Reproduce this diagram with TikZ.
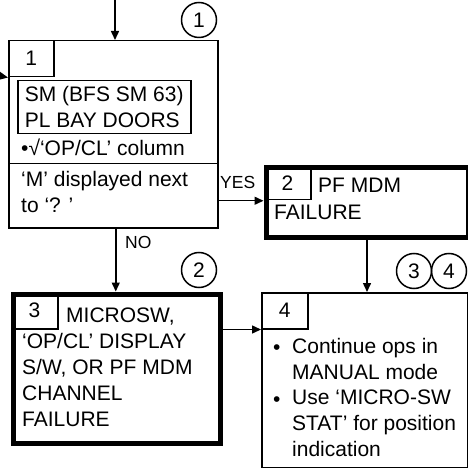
\documentclass[tikz,border=0pt]{standalone}
\usepackage{fontspec}
\setmainfont{Liberation Sans}
\usetikzlibrary{arrows.meta}

\begin{document}
\begin{tikzpicture}[x=1bp, y=-1bp, font=\fontsize{21bp}{26bp}\selectfont,
  box/.style={draw, line width=1.5bp, anchor=north west, inner sep=0},
  thickbox/.style={draw, line width=5bp, anchor=north west, inner sep=0},
  txt/.style={anchor=base west, inner sep=0, align=left},
  lbl/.style={anchor=base west, inner sep=0, font=\fontsize{17.5bp}{20bp}\selectfont},
  marker/.style={draw, circle, line width=1.5bp, minimum size=35bp, inner sep=0},
  arr/.style={line width=1.5bp, -{Triangle[length=9bp, width=8bp]}}]

\useasboundingbox (0,0) rectangle (468,468);

% Step 1 (question box)
\node[box, minimum width=209bp, minimum height=187bp] (b1) at (8,40) {};
\node[box, minimum width=209bp, minimum height=64bp] (q1) at (8,163) {};
\node[box, minimum width=45bp, minimum height=36bp] (n1) at (8,40) {1};
\node[box, minimum width=173bp, minimum height=53bp, align=left] (i1) at (17,80)
  {SM (BFS SM 63)\\PL BAY DOORS};
\node[txt] (t1) at (21,156) {•√‘OP/CL’ column};
% (base of a multi-line node = its last line)
\node[txt] (t1q) at (21,213) {‘M’ displayed next\\to ‘? ’};

% Step 2 (PF MDM failure)
\node[thickbox, minimum width=202bp, minimum height=69bp] (b2) at (263.5,165.5) {};
\node[box, minimum width=46.5bp, minimum height=33.5bp] (n2) at (263.5,165.5) {2};
\node[txt] (t2a) at (318,193) {PF MDM};
\node[txt] (t2b) at (274,220) {FAILURE};

% Step 3 (microswitch failure)
\node[thickbox, minimum width=207bp, minimum height=149bp] (b3) at (10.5,291.5) {};
\node[box, minimum width=46.5bp, minimum height=36.5bp] (n3) at (10.5,291.5) {3};
\node[txt] (t3a) at (66,322) {MICROSW,};
\node[txt] (t3b) at (22,426) {‘OP/CL’ DISPLAY\\S/W, OR PF MDM\\CHANNEL\\FAILURE};

% Step 4 (continue ops)
\node[box, minimum width=205.5bp, minimum height=175bp] (b4) at (261,292) {};
\node[box, minimum width=46bp, minimum height=36bp] (n4) at (261,292) {4};
\node[txt] (bul1) at (273,354) {•};
\node[txt] (it1) at (292,379) {Continue ops in\\MANUAL mode};
\node[txt] (bul2) at (273,406) {•};
\node[txt] (it2) at (292,456) {Use ‘MICRO-SW\\STAT’ for position\\indication};

% Note markers
\node[marker] (c1) at (199,20) {1};
\node[marker] (c2) at (199,270) {2};
\node[marker] (c3) at (414,271) {3};
\node[marker] (c4) at (449,271) {4};

% Connectors
\coordinate (top) at (115,0);
\coordinate (in1) at (0,76);
\draw[arr] (top) -- (top |- b1.north);
\draw[arr] (in1) -- (n1.south west);
\draw[arr] ([yshift=-5bp]q1.east) -- ([yshift=-5bp]q1.east -| b2.west);
\draw[arr] ([xshift=2.5bp]b1.south) -- ([xshift=2.5bp]b1.south |- b3.north);
\draw[arr] (b2.south) -- (b2.south |- b4.north);
\draw[arr] (b3.east |- n4.south west) -- (n4.south west);
\node[lbl] (yes) at (220,189) {YES};
\node[lbl] (no) at (125,248) {NO};

\end{tikzpicture}
\end{document}
